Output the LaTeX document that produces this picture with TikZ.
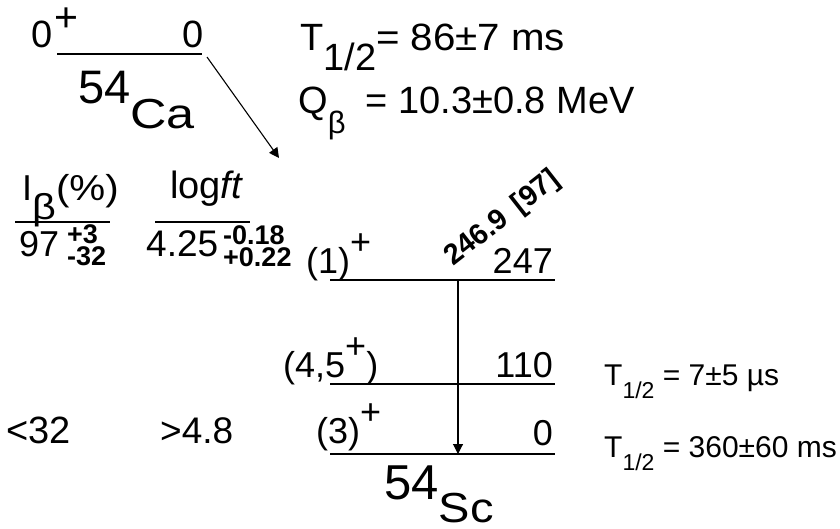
\documentclass[tikz,border=0pt]{standalone}
\usepackage{graphicx}
\usepackage{fontspec}
\setmainfont{Liberation Sans}
\usetikzlibrary{arrows.meta}
\newcommand{\fsz}[1]{\fontsize{#1}{#1}\selectfont}
\newcommand{\hi}[2]{\raisebox{#1pt}{#2}}
\newcommand{\sx}[2]{\scalebox{#1}[1]{#2}}
\begin{document}
\begin{tikzpicture}[x=1pt,y=-1pt,line join=round]
\tikzstyle{level} = [draw,line width=1.3pt]
\tikzstyle{rule} = [draw,line width=1.2pt]
\tikzstyle{decay} = [draw,line width=1.1pt,-{Triangle[length=10pt,width=10pt]}]
\tikzstyle{lab} = [inner sep=0pt,font=\fsz{36}]
\tikzstyle{err} = [inner sep=0pt,anchor=base west,font=\bfseries\fsz{27}]
\useasboundingbox (0,0) rectangle (840,528);
  \foreach \n/\y in {a/280,b/384,c/454}{
    \coordinate (\n w) at (330,\y);
    \coordinate (\n e) at (555,\y);
    \draw[level] (\n w) -- (\n e);
  }
  \coordinate (caw) at (57,54);
  \coordinate (cae) at (202,54);
  \draw[level] (caw) -- (cae);
  \node[lab,anchor=base west,font=\fsz{38}] (pspin) at (31,47) {0\hspace{2pt}\hi{16}{\smash{\fsz{41}+}}};
  \node[lab,anchor=base east,font=\fsz{38}] (pen) at (204,47) {0};
  \node[lab,anchor=base west] (ca) at (78,103) {\fsz{47}54\hi{-25}{\smash{\fsz{42}\sx{1.2}{Ca}}}};
  \node[lab,anchor=base west,font=\fsz{38}] (thalf) at (300,50) {T\hi{-20}{1/2}\sx{1.06}{= 86±7 ms}};
  \node[lab,anchor=base west,font=\fsz{38}] (qb) at (298,113) {Q\hi{-20}{\fsz{31}β}\hspace{20pt}= 10.3±0.8 MeV};
  \node[lab,anchor=base west] (ib) at (22,200) {I\hi{-19}{\sx{1.15}{β}}\sx{1.12}{(\%)}};
  \coordinate (iw) at (15,222);
  \coordinate (ie) at (110,222);
  \draw[rule] (iw) -- (ie);
  \node[lab,anchor=base west] (ival) at (19,256) {97};
  \node[err] (iup) at (67,243) {+3};
  \node[err] (ilo) at (67,265) {-32};
  \node[lab,anchor=base west,font=\fsz{38}] (lft) at (170,198) {log\textit{ft}};
  \coordinate (fw) at (155,222);
  \coordinate (fe) at (250,222);
  \draw[rule] (fw) -- (fe);
  \node[lab,anchor=base west,font=\fsz{37}] (fval) at (146,256) {4.25};
  \node[err] (fup) at (223,244) {-0.18};
  \node[err] (flo) at (223,266) {+0.22};
  \node[lab,anchor=base west,font=\fsz{38}] (ilim) at (6,443) {<32};
  \node[lab,anchor=base west,font=\fsz{37}] (flim) at (160,443) {>4.8};
  \node[lab,anchor=base west] (s1) at (306,273) {(1)\hi{19}{+}};
  \node[lab,anchor=base west] (s2) at (283,377) {(4,5\hi{19}{+})};
  \node[lab,anchor=base west] (s3) at (316,443) {(3)\hi{19}{+}};
  \node[lab,anchor=base east] (e1) at (553,273) {247};
  \node[lab,anchor=base east] (e2) at (553,377) {110};
  \node[lab,anchor=base east] (e3) at (553,445) {0};
  \node[lab,anchor=base west] (sc) at (384,499) {\fsz{49}54\hi{-23}{\smash{\fsz{42}\sx{1.12}{Sc}}}};
  \node[lab,anchor=base west,font=\fsz{30}] (t1) at (604,385) {T\hi{-13}{\fsz{23}1/2} = 7±5 µs};
  \node[lab,anchor=base west,font=\fsz{30}] (t0) at (604,457) {T\hi{-13}{\fsz{23}1/2} = 360±60 ms};
  \coordinate (gtop) at (458,280);
  \coordinate (gbot) at (458,454);
  \draw[decay] (gtop) -- (gbot);
  \node[lab,font=\bfseries\fsz{29},rotate=38,anchor=base west] (glab) at (453,267) {246.9\hspace{0.45em}[97]};
  \coordinate (bstart) at (207,57);
  \coordinate (bend) at (279,158);
  \draw[decay] (bstart) -- (bend);
\end{tikzpicture}
\end{document}
